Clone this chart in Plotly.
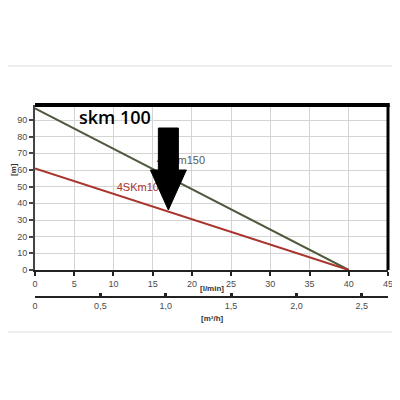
import plotly.graph_objs as go

# --- data ---
flow_lmin = [0, 40]
head_150 = [97, 0]
head_100 = [61, 0]
x_ticks = [0, 5, 10, 15, 20, 25, 30, 35, 40, 45]
y_ticks = [0, 10, 20, 30, 40, 50, 60, 70, 80, 90]
m3h_ticks = [0, 0.5, 1.0, 1.5, 2.0, 2.5]
m3h_labels = ["0", "0,5", "1,0", "1,5", "2,0", "2,5"]
curve_names = ["4SKm150", "4SKm100"]
label_x = [18.6, 13.5]
label_y = [65, 49]
arrow_tip = (17, 36)

GREEN = "#4d5a3c"
RED = "#a8352e"
GRID = "#d4d4d4"
TICKCOL = "#4a4a4a"

W = 400
OFF = 8  # page body margin


def px(p):
    return (p - OFF) / W


def py(p):
    return 1 - (p - OFF) / W


X0, X1 = px(35), px(388)
Y0, Y1 = py(270), py(105)
XMAX, YMAX = 45, 99
# pixel -> data unit factors for the arrow glyph
PX_X = XMAX / 353
PX_Y = YMAX / 165

fig = go.Figure()
fig.add_trace(go.Scatter(x=flow_lmin, y=head_150, mode="lines", line=dict(color=GREEN, width=2), showlegend=False))
fig.add_trace(go.Scatter(x=flow_lmin, y=head_100, mode="lines", line=dict(color=RED, width=2), showlegend=False))
# curve labels as text traces so the arrow can sit on top of them
fig.add_trace(go.Scatter(x=label_x, y=label_y, mode="text", text=curve_names, textposition="middle center",
                         textfont=dict(family="Liberation Sans", size=11, color=["#5a5a4a", RED]),
                         showlegend=False, hoverinfo="skip"))
# dummy trace to show the m3/h axis
fig.add_trace(go.Scatter(x=[0], y=[0], xaxis="x2", mode="markers", marker=dict(opacity=0), showlegend=False, hoverinfo="skip"))

# down arrow built around the tip: (dx px, dy px above tip)
tx, ty = arrow_tip
arrow_pts = [(0, 0), (-18, 40), (-10, 40), (-10, 82), (10, 82), (10, 40), (18, 40)]
arrow_path = "M " + " L ".join(f"{tx + dx * PX_X},{ty + dy * PX_Y}" for dx, dy in arrow_pts) + " Z"

tickfont = dict(family="Liberation Sans, Arial", size=9, color=TICKCOL)
labfont = dict(family="Liberation Sans", size=8, color="#333")
fig.update_layout(
    width=W, height=W,
    margin=dict(l=0, r=0, t=0, b=0),
    paper_bgcolor="white", plot_bgcolor="white",
    xaxis=dict(domain=[X0, X1], range=[0, XMAX], tickvals=x_ticks, showgrid=True, gridcolor=GRID, gridwidth=1,
               showline=True, linecolor="#222", linewidth=2, ticks="outside", ticklen=4, tickwidth=2, tickcolor="#222",
               tickfont=tickfont, zeroline=False, fixedrange=True, automargin=False),
    yaxis=dict(domain=[Y0, Y1], range=[0, YMAX], tickvals=y_ticks, showgrid=True, gridcolor=GRID,
               showline=True, linecolor="#444", linewidth=2, ticks="outside", ticklen=4, tickwidth=2, tickcolor="#444",
               tickfont=tickfont, zeroline=False, fixedrange=True, automargin=False),
    xaxis2=dict(domain=[X0, X1], range=[0, 2.7], anchor="free", position=py(297), overlaying="x",
                tickvals=m3h_ticks, ticktext=m3h_labels, showgrid=False, showline=True, linecolor="#222", linewidth=2,
                ticks="inside", ticklen=3, tickwidth=3, tickcolor="#222", tickfont=tickfont, zeroline=False,
                side="bottom", fixedrange=True, automargin=False),
    shapes=[
        dict(type="rect", xref="paper", yref="paper", x0=px(1), x1=px(399), y0=py(332), y1=py(66),
             line=dict(color="#dddddd", width=1), layer="below"),
        dict(type="line", xref="x domain", yref="y domain", x0=0, x1=1.005, y0=1, y1=1, line=dict(color="black", width=4)),
        dict(type="line", xref="x domain", yref="y domain", x0=1, x1=1, y0=0, y1=1, line=dict(color="black", width=3)),
        dict(type="path", xref="x", yref="y", path=arrow_path, fillcolor="black", line=dict(color="black", width=1),
             layer="above"),
    ],
    annotations=[
        dict(text="skm 100", x=px(115), y=py(117), xref="paper", yref="paper", showarrow=False,
             xanchor="center", yanchor="middle", font=dict(family="Open Sans", size=18, color="black", weight=600)),
        dict(text="<b>[l/min]</b>", x=px(212), y=py(288), xref="paper", yref="paper", showarrow=False,
             xanchor="center", yanchor="middle", font=labfont),
        dict(text="<b>[m³/h]</b>", x=px(212), y=py(318), xref="paper", yref="paper", showarrow=False,
             xanchor="center", yanchor="middle", font=labfont),
        dict(text="<b>[m]</b>", x=px(13), y=py(170), xref="paper", yref="paper", showarrow=False, textangle=-90,
             xanchor="center", yanchor="middle", font=labfont),
    ],
)

fig.write_html("out.html")
